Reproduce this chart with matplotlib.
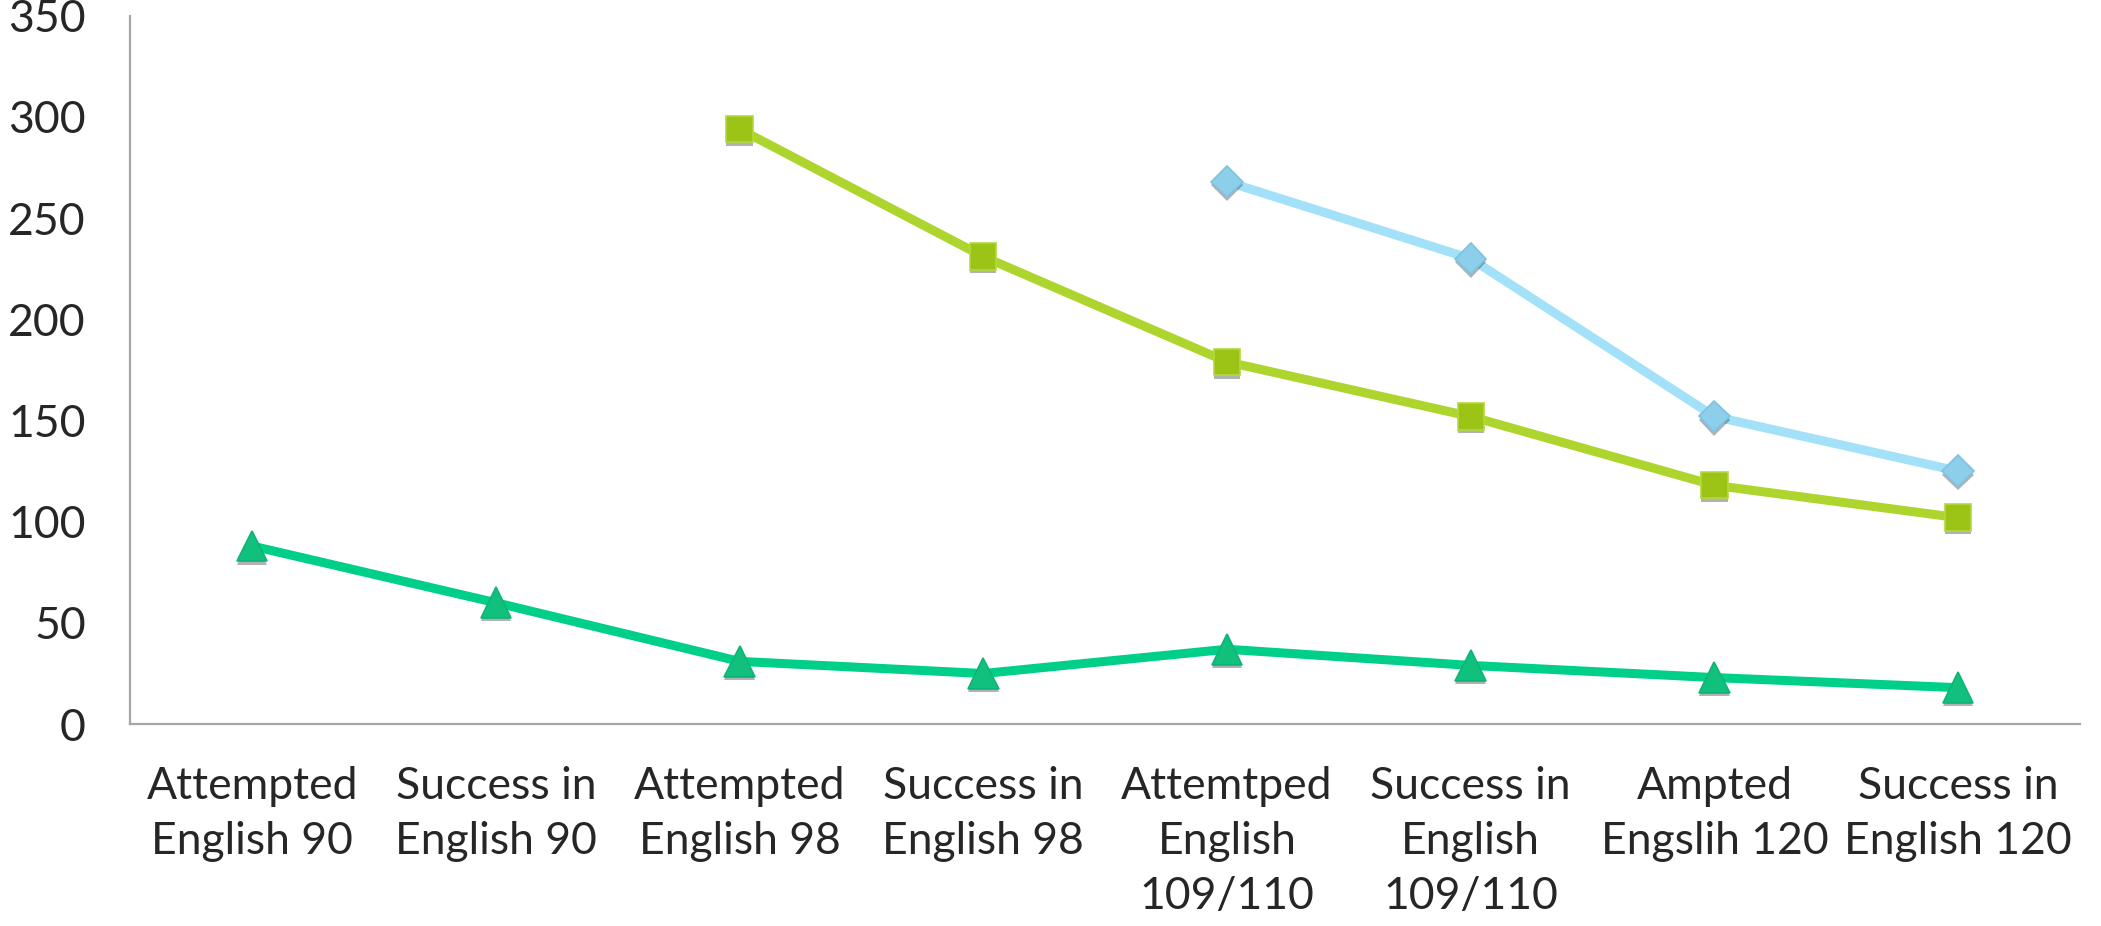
import numpy as np
import matplotlib
matplotlib.use("Agg")
import matplotlib.pyplot as plt
import matplotlib.patheffects as pe

categories = ["Attempted\nEnglish 90", "Success in\nEnglish 90",
              "Attempted\nEnglish 98", "Success in\nEnglish 98",
              "Attemtped\nEnglish\n109/110", "Success in\nEnglish\n109/110",
              "Ampted\nEngslih 120", "Success in\nEnglish 120"]

# series start at different courses, so leading slots are None
triangles = [88, 60, 31, 25, 37, 29, 23, 18]
squares = [None, None, 294, 231, 179, 152, 118, 102]
diamonds = [None, None, None, None, 268, 230, 152, 125]

plt.rcParams['font.family'] = ['Lato', 'DejaVu Sans']

fig = plt.figure(figsize=(21.01, 9.26), dpi=100)
ax = fig.add_axes([0.062, 0.218, 0.928, 0.765])

x = np.arange(len(categories))
shadow = [pe.SimplePatchShadow(offset=(0, -2.5), shadow_rgbFace='black', alpha=0.3), pe.Normal()]

def draw(vals, line_col, face, edge, marker, ms):
    xs = [i for i, v in enumerate(vals) if v is not None]
    ys = [v for v in vals if v is not None]
    ax.plot(xs, ys, color=line_col, lw=6.5, solid_capstyle='butt', zorder=2)
    ax.plot(xs, ys, ls='none', marker=marker, ms=ms, mfc=face, mec=edge, mew=1.2,
            zorder=3, path_effects=shadow)

draw(triangles, '#00CF88', '#12C07E', '#0DB477', '^', 22)
draw(squares, '#AED42E', '#9CC417', '#B4D93C', 's', 19)
draw(diamonds, '#A2E1F8', '#8DCFEB', '#7FC2DF', 'D', 16)

ax.set_xlim(-0.5, 7.5)
ax.set_ylim(0, 350)
ax.set_yticks(range(0, 351, 50))
ax.set_xticks(x)
ax.set_xticklabels(categories, linespacing=1.42)

for s in ('top', 'right'):
    ax.spines[s].set_visible(False)
for s in ('left', 'bottom'):
    ax.spines[s].set_color('#A6A6A6')
    ax.spines[s].set_linewidth(1.6)

ax.tick_params(axis='both', length=0, labelsize=32, colors='#262626')
ax.tick_params(axis='y', pad=32)
ax.tick_params(axis='x', pad=30)

fig.savefig("out.png", dpi=100, facecolor='white')
